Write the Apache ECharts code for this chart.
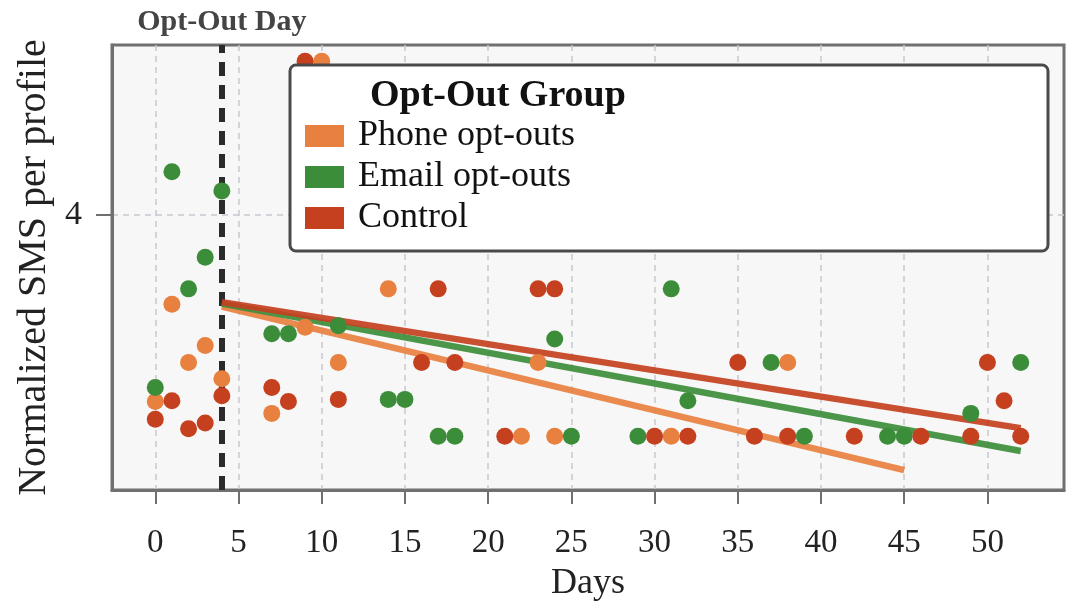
<!DOCTYPE html>
<html>
<head>
<meta charset="utf-8">
<title>Opt-Out Group SMS</title>
<script src="https://cdn.jsdelivr.net/npm/echarts@6/dist/echarts.min.js"></script>
<style>
    html, body { margin: 0; padding: 0; background: #fff; }
    #myChart { width: 1068px; height: 607px; }
</style>
</head>
<body>
<div id="myChart"></div>
<script>
    // data
    const groups = ['Phone opt-outs', 'Email opt-outs', 'Control'];
    const optOutDay = 4;
    const xTicks = [0, 5, 10, 15, 20, 25, 30, 35, 40, 45, 50];
    const yTicks = [4];

    const phoneDays = [0, 1, 2, 3, 4, 7, 9, 10, 11, 14, 22, 23, 24, 31, 38];
    const phoneVals = [1.47, 2.79, 2.0, 2.23, 1.78, 1.31, 2.48, 6.09, 2.0, 3.0, 1.0, 2.0, 1.0, 1.0, 2.0];

    const emailDays = [0, 1, 2, 3, 4, 7, 8, 11, 14, 15, 17, 18, 24, 25, 29, 31, 32, 37, 39, 44, 45, 49, 52];
    const emailVals = [1.66, 4.59, 3.0, 3.43, 4.33, 2.39, 2.39, 2.5, 1.5, 1.5, 1.0, 1.0, 2.32, 1.0, 1.0, 3.0, 1.48, 2.0, 1.0, 1.0, 1.0, 1.31, 2.0];

    const controlDays = [0, 1, 2, 3, 4, 7, 8, 9, 11, 16, 17, 18, 21, 23, 24, 30, 32, 35, 36, 38, 42, 46, 49, 50, 51, 52];
    const controlVals = [1.23, 1.48, 1.10, 1.18, 1.55, 1.66, 1.47, 6.09, 1.5, 2.0, 3.0, 2.0, 1.0, 3.0, 3.0, 1.0, 1.0, 2.0, 1.0, 1.0, 1.0, 1.0, 1.0, 2.0, 1.48, 1.0];

    // fitted trend lines (start / end)
    const phoneTrendDays = [4, 45];
    const phoneTrendVals = [2.76, 0.54];
    const emailTrendDays = [4, 52];
    const emailTrendVals = [2.80, 0.80];
    const controlTrendDays = [4, 52];
    const controlTrendVals = [2.82, 1.11];

    const colors = ['#E8803F', '#3C8D3A', '#C4401F'];
    const serif = '"Liberation Serif", "DejaVu Serif", serif';

    const zip = (xs, ys) => xs.map((x, i) => [x, ys[i]]);

    const trend = (name, xs, ys, color) => ({
        name: name,
        type: 'line',
        data: zip(xs, ys),
        symbol: 'none',
        silent: true,
        lineStyle: {color: color, width: 6.5, opacity: 0.92},
        z: 2
    });

    const dots = (name, xs, ys, color) => ({
        name: name,
        type: 'scatter',
        data: zip(xs, ys),
        symbolSize: 17,
        itemStyle: {color: color, opacity: 1},
        z: 3
    });

    const phoneTrend = trend('Phone trend', phoneTrendDays, phoneTrendVals, colors[0]);
    phoneTrend.markLine = {
        silent: true,
        symbol: 'none',
        z: 1,
        lineStyle: {color: '#2b2b2b', width: 6, type: [14, 9]},
        label: {
            show: true,
            position: 'end',
            formatter: 'Opt-Out Day',
            fontFamily: serif,
            fontWeight: 'bold',
            fontSize: 30,
            color: '#444',
            distance: 8
        },
        data: [{xAxis: optOutDay}]
    };

    const myChart = echarts.init(document.getElementById('myChart'));

    const option = {
        animation: false,
        backgroundColor: '#fff',
        title: {
            text: 'Opt-Out Group',
            left: 370,
            top: 77,
            padding: 0,
            z: 20,
            textStyle: {fontFamily: serif, fontWeight: 'bold', fontSize: 38, color: '#111'}
        },
        legend: {
            data: groups,
            orient: 'vertical',
            left: 290,
            top: 65,
            icon: 'rect',
            itemWidth: 39,
            itemHeight: 22,
            itemGap: 5,
            padding: [53, 473, 15, 15],
            backgroundColor: '#fff',
            borderColor: '#4a4a4a',
            borderWidth: 3,
            borderRadius: 6,
            selectedMode: false,
            z: 10,
            textStyle: {fontFamily: serif, fontSize: 36, color: '#111', lineHeight: 36, padding: [0, 0, 0, 9]}
        },
        grid: {
            left: 112,
            right: 4,
            top: 45,
            bottom: 115,
            show: true,
            backgroundColor: '#f7f7f7',
            borderColor: '#707070',
            borderWidth: 3
        },
        xAxis: {
            type: 'value',
            min: -2.6,
            max: 54.6,
            name: 'Days',
            nameLocation: 'middle',
            nameGap: 76,
            nameTextStyle: {fontFamily: serif, fontSize: 36, color: '#222'},
            axisLine: {show: true, onZero: false, lineStyle: {color: '#707070', width: 3}},
            axisTick: {show: true, customValues: xTicks, length: 14, lineStyle: {color: '#707070', width: 2}},
            axisLabel: {customValues: xTicks, margin: 37, fontFamily: serif, fontSize: 33, color: '#222'},
            splitLine: {show: true, lineStyle: {color: '#c8c8d0', width: 1.5, type: [6, 5]}}
        },
        yAxis: {
            type: 'value',
            min: 0.27,
            max: 6.31,
            name: 'Normalized SMS per profile',
            nameLocation: 'middle',
            nameGap: 57,
            nameTextStyle: {fontFamily: serif, fontSize: 40, color: '#222'},
            axisLine: {show: true, onZero: false, lineStyle: {color: '#707070', width: 3}},
            axisTick: {show: true, customValues: yTicks, length: 16, lineStyle: {color: '#707070', width: 2}},
            axisLabel: {customValues: yTicks, margin: 30, fontFamily: serif, fontSize: 34, color: '#222'},
            splitLine: {show: true, lineStyle: {color: '#c8c8d0', width: 1.5, type: [6, 5]}}
        },
        series: [
            phoneTrend,
            trend('Email trend', emailTrendDays, emailTrendVals, colors[1]),
            trend('Control trend', controlTrendDays, controlTrendVals, colors[2]),
            dots(groups[0], phoneDays, phoneVals, colors[0]),
            dots(groups[1], emailDays, emailVals, colors[1]),
            dots(groups[2], controlDays, controlVals, colors[2])
        ]
    };

    myChart.setOption(option);
</script>
</body>
</html>
